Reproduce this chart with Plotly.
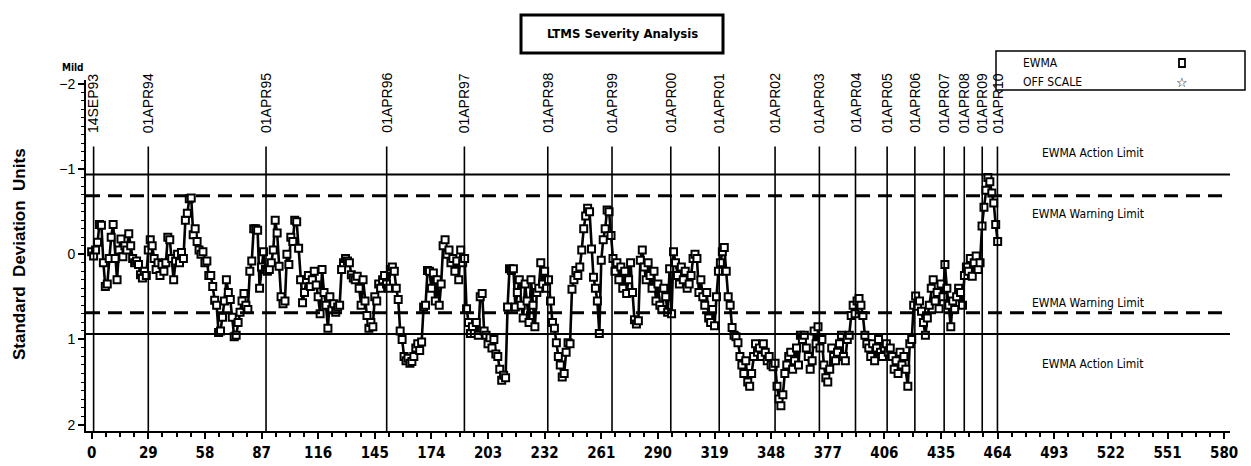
import plotly.graph_objects as go

# EWMA severity values, one per test in run order
ewma = [
    -0.03, 0.02, -0.05, -0.14, -0.35, -0.34, 0.10, 0.38, 0.35, 0.05,
    -0.20, -0.35, 0.05, 0.30, -0.05, -0.18, 0.03, -0.10, -0.05, -0.24,
    -0.10, 0.05, 0.10, 0.08, 0.12, 0.24, 0.28, 0.20, 0.25, -0.05,
    -0.17, -0.10, 0.05, 0.18, 0.10, 0.25, 0.12, 0.20, 0.10, -0.20,
    -0.17, 0.05, 0.30, 0.08, 0.00, 0.10, -0.02, 0.05, -0.40, -0.48,
    -0.65, -0.66, -0.23, -0.30, -0.15, -0.05, 0.00, -0.03, 0.10, 0.08,
    0.25, 0.25, 0.38, 0.54, 0.60, 0.92, 0.90, 0.74, 0.55, 0.30,
    0.45, 0.53, 0.74, 0.97, 0.95, 0.80, 0.68, 0.55, 0.46, 0.60,
    0.65, 0.20, 0.08, -0.30, -0.30, -0.28, 0.40, 0.15, -0.03, 0.18,
    0.20, 0.18, 0.10, -0.05, -0.40, -0.25, 0.14, 0.50, 0.58, 0.55,
    0.00, 0.12, -0.20, -0.15, -0.40, -0.38, -0.07, 0.30, 0.57, 0.45,
    0.30, 0.25, 0.38, 0.30, 0.20, 0.36, 0.50, 0.70, 0.18, 0.45,
    0.60, 0.87, 0.50, 0.65, 0.58, 0.68, 0.62, 0.60, 0.18, 0.10,
    0.05, 0.08, 0.10, 0.24, 0.28, 0.30, 0.26, 0.40, 0.60, 0.30,
    0.55, 0.72, 0.87, 0.80, 0.85, 0.50, 0.55, 0.35, 0.40, 0.30,
    0.25, 0.35, 0.40, 0.18, 0.15, 0.20, 0.40, 0.53, 0.90, 1.00,
    1.20, 1.25, 1.22, 1.28, 1.26, 1.20, 1.10, 1.05, 1.13, 1.03,
    0.62, 0.60, 0.19, 0.20, 0.40, 0.22, 0.55, 0.30, 0.60, 0.35,
    -0.10, -0.17, 0.00, -0.05, 0.10, 0.05, 0.20, 0.08, 0.30, -0.05,
    0.10, 0.05, 0.64, 0.80, 0.93, 0.85, 0.93, 0.80, 0.95, 0.50,
    0.46, 0.90, 0.95, 1.05, 0.98, 1.10, 1.00, 1.17, 1.20, 1.35,
    1.48, 1.42, 1.45, 0.62, 0.17, 0.19, 0.17, 0.62, 0.45, 0.30,
    0.60, 0.75, 0.35, 0.55, 0.80, 0.30, 0.60, 0.85, 0.45, 0.40,
    0.10, 0.35, 0.20, 0.40, 0.30, 0.55, 0.80, 0.87, 1.04, 1.20,
    1.30, 1.44, 1.40, 1.15, 1.04, 1.05, 0.41, 0.30, 0.19, 0.25,
    0.15, -0.05, -0.30, -0.45, -0.54, -0.50, -0.06, 0.27, 0.40, 0.55,
    0.93, 0.07, -0.17, -0.30, -0.52, -0.50, -0.22, 0.05, 0.20, 0.10,
    0.30, 0.15, 0.40, 0.20, 0.46, 0.30, 0.10, 0.45, 0.77, 0.82,
    0.78, 0.07, -0.05, 0.15, 0.30, 0.10, 0.25, 0.40, 0.20, 0.55,
    0.35, 0.60, 0.65, 0.40, 0.50, 0.68, 0.17, 0.70, -0.03, 0.10,
    0.25, 0.35, 0.15, 0.30, 0.20, 0.40, 0.35, 0.25, 0.05, 0.00,
    0.05, 0.45, 0.30, 0.50, 0.60, 0.45, 0.75, 0.80, 0.65, 0.84,
    0.50, 0.20, 0.10, -0.03, -0.08, 0.20, 0.50, 0.60, 0.86, 0.95,
    0.97, 1.04, 1.20, 1.30, 1.40, 1.25, 1.50, 1.55, 1.40, 1.20,
    1.05, 1.15, 1.10, 1.20, 1.05, 1.15, 1.25, 1.20, 1.30, 1.32,
    1.28, 1.55, 1.70, 1.78, 1.65, 1.40, 1.30, 1.20, 1.15, 1.35,
    1.25, 1.10, 1.30, 0.95, 1.00, 0.95, 1.10, 1.20, 1.35, 1.25,
    0.90, 1.05, 0.85, 1.10, 1.00, 1.30, 1.45, 1.50, 1.35, 1.10,
    1.20, 1.25, 1.15, 1.05, 0.95, 1.20, 1.25, 1.00, 0.95, 0.72,
    0.60, 0.70, 0.55, 0.52, 0.60, 0.72, 0.95, 1.05, 1.10, 1.20,
    1.05, 1.25, 1.10, 1.00, 1.15, 1.20, 1.10, 1.05, 1.15, 1.10,
    1.20, 1.35, 1.25, 1.40, 1.15, 1.30, 1.20, 1.35, 1.55, 1.05,
    1.00, 0.60, 0.49, 0.61, 0.55, 0.67, 0.80, 0.95, 0.75, 0.60,
    0.40, 0.30, 0.55, 0.45, 0.64, 0.35, 0.50, 0.12, 0.40, 0.60,
    0.85, 0.55, 0.65, 0.50, 0.40, 0.45, 0.60, 0.25, 0.15, 0.20,
    0.05, 0.26, 0.10, 0.02, 0.18, 0.10, -0.33, -0.55, -0.75, -0.90,
    -0.85, -0.72, -0.60, -0.35, -0.15,
]
test_index = list(range(len(ewma)))

# Reference dates marked along the run sequence
date_labels = ["14SEP93", "01APR94", "01APR95", "01APR96", "01APR97", "01APR98",
               "01APR99", "01APR00", "01APR01", "01APR02", "01APR03", "01APR04",
               "01APR05", "01APR06", "01APR07", "01APR08", "01APR09", "01APR10"]
date_positions = [1.0, 29.0, 89.3, 151.1, 190.9, 233.6, 266.5, 296.6, 321.4,
                  350.0, 372.7, 391.2, 407.4, 421.6, 436.6, 446.9, 456.1, 463.9]

# Control limits (standard deviation units)
action_limits = [-0.935, 0.935]
warning_limits = [-0.687, 0.687]

x_ticks = [0, 29, 58, 87, 116, 145, 174, 203, 232, 261, 290, 319, 348, 377,
           406, 435, 464, 493, 522, 551, 580]
y_ticks = [-2, -1, 0, 1, 2]
y_tick_text = ["\u22122", "\u22121", "0", "1", "2"]

W, H = 1251, 466
ML, MR, MT, MB = 86, 21, 80, 35


def px(xp):
    return (xp - ML) / (W - ML - MR)


def py(yp):
    return (H - MB - yp) / (H - MT - MB)


COND = "DejaVu Sans Condensed, Liberation Sans Narrow, Arial Narrow, sans-serif"
SANS = "Liberation Sans, Arial, Helvetica, sans-serif"

fig = go.Figure()

fig.add_trace(go.Scatter(
    x=test_index, y=ewma, mode="lines+markers",
    line=dict(color="black", width=2.6),
    marker=dict(symbol="square", size=7, color="white",
                line=dict(color="black", width=2)),
    showlegend=False, hoverinfo="x+y",
))

shapes = []
# action limits (solid) and warning limits (dashed)
for v in action_limits:
    shapes.append(dict(type="line", xref="paper", yref="y", x0=0, x1=1, y0=v, y1=v,
                       line=dict(color="black", width=2)))
for v in warning_limits:
    shapes.append(dict(type="line", xref="paper", yref="y", x0=0, x1=1, y0=v, y1=v,
                       line=dict(color="black", width=3, dash="14px,8px")))
# date reference lines
for xv in date_positions:
    shapes.append(dict(type="line", xref="x", yref="y", x0=xv, x1=xv, y0=-1.263, y1=2.075,
                       line=dict(color="black", width=1.6)))

# title box
shapes.append(dict(type="rect", xref="paper", yref="paper",
                   x0=px(521), x1=px(723), y0=py(53), y1=py(15),
                   line=dict(color="black", width=3)))
# legend box
shapes.append(dict(type="rect", xref="paper", yref="paper",
                   x0=px(996), x1=px(1245), y0=py(90), y1=py(51),
                   line=dict(color="black", width=1.5)))
# legend square symbol
shapes.append(dict(type="rect", xref="paper", yref="paper",
                   x0=px(1179), x1=px(1185), y0=py(67), y1=py(59),
                   line=dict(color="black", width=1.8)))

annotations = []
for lab, xv in zip(date_labels, date_positions):
    annotations.append(dict(x=xv, y=-1.40, xref="x", yref="y", text=lab, textangle=-90,
                            showarrow=False, xanchor="center", yanchor="bottom",
                            font=dict(family=SANS, size=14, color="black")))

limit_font = dict(family=COND, size=12, color="black")
annotations += [
    dict(x=540, y=action_limits[0] - 0.25, xref="x", yref="y", text="EWMA Action Limit",
         showarrow=False, xanchor="right", yanchor="middle", font=limit_font),
    dict(x=540, y=warning_limits[0] + 0.21, xref="x", yref="y", text="EWMA Warning Limit",
         showarrow=False, xanchor="right", yanchor="middle", font=limit_font),
    dict(x=540, y=warning_limits[1] - 0.12, xref="x", yref="y", text="EWMA Warning Limit",
         showarrow=False, xanchor="right", yanchor="middle", font=limit_font),
    dict(x=540, y=action_limits[1] + 0.35, xref="x", yref="y", text="EWMA Action Limit",
         showarrow=False, xanchor="right", yanchor="middle", font=limit_font),
]

annotations += [
    dict(x=px(622), y=py(34), xref="paper", yref="paper", text="<b>LTMS Severity Analysis</b>",
         showarrow=False, xanchor="center", yanchor="middle",
         font=dict(family=COND, size=13, color="black")),
    dict(x=px(1021), y=py(63), xref="paper", yref="paper", text="EWMA",
         showarrow=False, xanchor="left", yanchor="middle", font=limit_font),
    dict(x=px(1021), y=py(82), xref="paper", yref="paper", text="OFF SCALE",
         showarrow=False, xanchor="left", yanchor="middle", font=limit_font),
    dict(x=px(1182), y=py(82), xref="paper", yref="paper", text="\u2606",
         showarrow=False, xanchor="center", yanchor="middle",
         font=dict(family="DejaVu Sans", size=13, color="black")),
    dict(x=px(73), y=py(67), xref="paper", yref="paper", text="<b>Mild</b>",
         showarrow=False, xanchor="center", yanchor="middle",
         font=dict(family=COND, size=10, color="black")),
    dict(x=px(19), y=py(254), xref="paper", yref="paper",
         text="<b>Standard" + "\u00a0" * 2 + "Deviation" + "\u00a0" * 2 + "Units</b>",
         textangle=-90, showarrow=False, xanchor="center", yanchor="middle",
         font=dict(family=SANS, size=17, color="black")),
]

fig.update_layout(
    width=W, height=H,
    margin=dict(l=ML, r=MR, t=MT, b=MB, autoexpand=False),
    paper_bgcolor="white", plot_bgcolor="white",
    shapes=shapes, annotations=annotations,
    showlegend=False,
    xaxis=dict(
        range=[-2.9, 583], tickmode="array", tickvals=x_ticks,
        ticktext=[str(t) for t in x_ticks], automargin=False,
        showgrid=False, zeroline=False, showline=True, linecolor="black", linewidth=2,
        ticks="outside", ticklen=6, tickwidth=2, tickcolor="black",
        ticklabelstandoff=1,
        tickfont=dict(family=COND, size=15, color="black", weight="bold"),
        minor=dict(tick0=0, dtick=7.25, ticks="outside", ticklen=4, tickwidth=1.5,
                   tickcolor="black", showgrid=False),
    ),
    yaxis=dict(
        range=[2.075, -2.045], tickmode="array", tickvals=y_ticks, ticktext=y_tick_text,
        automargin=False,
        showgrid=False, zeroline=False, showline=True, linecolor="black", linewidth=2,
        ticks="outside", ticklen=6, tickwidth=2, tickcolor="black",
        tickfont=dict(family=SANS, size=14, color="black"),
        minor=dict(tick0=0, dtick=0.1, ticks="outside", ticklen=3, tickwidth=1.2,
                   tickcolor="black", showgrid=False),
    ),
)

fig.write_html("out.html")
